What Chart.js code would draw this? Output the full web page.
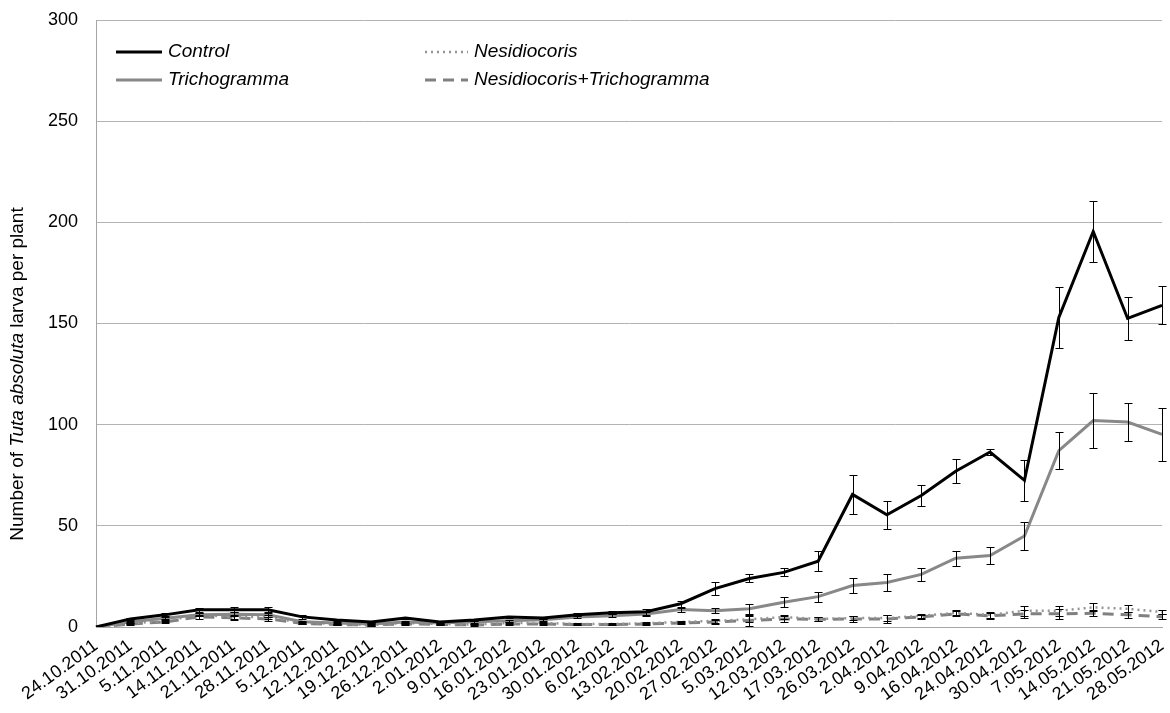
<!DOCTYPE html>
<html>
<head>
<meta charset="utf-8">
<script src="https://cdn.jsdelivr.net/npm/chart.js@4"></script>
<style>
  html, body { margin: 0; padding: 0; background: #fff; }
  #wrap { width: 1170px; height: 713px; position: relative; }
</style>
</head>
<body>
<div id="wrap"><canvas id="myChart" width="1170" height="713"></canvas></div>
<script>
const dates = ["24.10.2011", "31.10.2011", "5.11.2011", "14.11.2011", "21.11.2011", "28.11.2011",
  "5.12.2011", "12.12.2011", "19.12.2011", "26.12.2011", "2.01.2012", "9.01.2012", "16.01.2012",
  "23.01.2012", "30.01.2012", "6.02.2012", "13.02.2012", "20.02.2012", "27.02.2012", "5.03.2012",
  "12.03.2012", "17.03.2012", "26.03.2012", "2.04.2012", "9.04.2012", "16.04.2012", "24.04.2012",
  "30.04.2012", "7.05.2012", "14.05.2012", "21.05.2012", "28.05.2012"];

const yTicks = [0, 50, 100, 150, 200, 250, 300];

// series means
const control = [0, 4, 6, 8.5, 8.5, 8.5, 5, 3.5, 2.5, 4.5, 2.5, 3.5, 5, 4.5, 6, 7, 7.5, 11.5,
  19, 24, 27, 32.5, 65.5, 55.5, 65, 77, 86.5, 72.5, 153, 195.5, 152.5, 159];
const tricho = [0, 2.6, 4.3, 6, 6.3, 6, 2.6, 2, 1.5, 2.5, 2, 2.6, 3.1, 3.6, 5, 5.6, 6.4, 8.6,
  8, 9, 12.2, 15, 20.5, 22, 26, 34, 35.3, 45, 87.2, 102, 101.3, 95.2];
const nesid = [0, 1.8, 3, 6, 5, 5, 2, 1.5, 1, 2, 1.5, 1.2, 2, 2, 1.5, 1.5, 1.8, 2.5,
  3, 3.8, 4.9, 4, 4.4, 4.4, 5.5, 7, 6, 8, 8, 9.7, 9, 7.4];
const nesTricho = [0, 1.5, 2.5, 5, 4.5, 4, 1.8, 1.2, 1, 1.5, 1.3, 1, 1.5, 1.5, 1.2, 1.2, 1.5, 2,
  2.5, 3.2, 4, 3.8, 4, 4, 5, 6.5, 5.5, 6.5, 6.5, 6.8, 6, 5.1];

// error bar half-widths
const controlErr = [0, 0.5, 0.8, 1, 1.2, 1.2, 0.8, 0.5, 0.5, 0.5, 0.5, 0.5, 0.5, 0.5, 0.8, 0.8, 1.5, 1.5,
  3.2, 2, 2, 5, 9.5, 7, 5, 6, 1.5, 10, 15, 15, 10.5, 9.3];
const trichoErr = [0, 0.5, 0.5, 0.8, 1, 1, 0.5, 0.5, 0.5, 0.5, 0.5, 0.5, 0.5, 0.5, 0.5, 0.6, 0.8, 1,
  1.2, 2.5, 2.5, 2.5, 3.5, 4, 3.4, 3.8, 4.3, 7, 9, 13.7, 9.3, 13];
const nesidErr = [0, 0.5, 0.5, 0.8, 1, 1, 0.5, 0.3, 0.3, 0.5, 0.3, 0.3, 0.5, 0.5, 0.3, 0.3, 0.5, 0.5,
  0.8, 1.5, 1, 0.8, 1, 1.5, 1, 1.2, 1.5, 2.5, 2.5, 2, 1.8, 1.2];
const nesTrichoErr = [0, 0.5, 0.5, 0.8, 1, 1, 0.5, 0.3, 0.3, 0.5, 0.3, 0.3, 0.5, 0.5, 0.3, 0.3, 0.5, 0.5,
  0.8, 2.5, 1.5, 1, 1.5, 2, 1, 1.2, 1.5, 2, 2.5, 1.5, 1.5, 1.2];

const seriesNames = ["Control", "Trichogramma", "Nesidiocoris", "Nesidiocoris+Trichogramma"];

const FONT = "'Liberation Sans', Arial, sans-serif";
var ctx = document.getElementById("myChart");

// error bars drawn through the scales
const errorBars = {
  id: "errorBars",
  afterDatasetsDraw(chart) {
    const c = chart.ctx, xs = chart.scales.x, ys = chart.scales.y;
    c.save();
    c.strokeStyle = "#000";
    c.lineWidth = 1;
    chart.data.datasets.forEach(ds => {
      ds.data.forEach((v, i) => {
        const e = ds.err[i];
        if (!e) return;
        const x = Math.round(xs.getPixelForValue(i)) + 0.5;
        const y1 = Math.round(ys.getPixelForValue(v + e)) + 0.5;
        const y2 = Math.round(ys.getPixelForValue(v - e)) + 0.5;
        c.beginPath();
        c.moveTo(x, y1); c.lineTo(x, y2);
        c.moveTo(x - 4, y1); c.lineTo(x + 4, y1);
        c.moveTo(x - 4, y2); c.lineTo(x + 4, y2);
        c.stroke();
      });
    });
    c.restore();
  }
};

// legend in two columns + y title with italic part
const extras = {
  id: "extras",
  afterDraw(chart) {
    const c = chart.ctx;
    const pos = [[116, 52], [116, 80], [425, 52], [425, 80]];
    c.save();
    chart.data.datasets.forEach((ds, i) => {
      const [lx, ly] = pos[i];
      const len = i < 2 ? 46 : 43;
      c.beginPath();
      c.strokeStyle = ds.borderColor;
      c.lineWidth = ds.borderWidth;
      c.setLineDash(ds.borderDash || []);
      c.moveTo(lx, ly); c.lineTo(lx + len, ly);
      c.stroke();
      c.setLineDash([]);
      c.fillStyle = "#000";
      c.font = "italic 19px " + FONT;
      c.textBaseline = "middle";
      c.fillText(seriesNames[i], lx + len + 6, ly);
    });

    const parts = [["Number of ", ""], ["Tuta absoluta", "italic "], [" larva per plant", ""]];
    let total = 0;
    parts.forEach(p => { c.font = p[1] + "19px " + FONT; total += c.measureText(p[0]).width; });
    c.translate(18, 374);
    c.rotate(-Math.PI / 2);
    c.textBaseline = "middle";
    c.fillStyle = "#000";
    let x = -total / 2;
    parts.forEach(p => {
      c.font = p[1] + "19px " + FONT;
      c.fillText(p[0], x, 0);
      x += c.measureText(p[0]).width;
    });
    c.restore();
  }
};

new Chart(ctx, {
  type: "line",
  data: {
    labels: dates,
    datasets: [
      { label: seriesNames[0], data: control, err: controlErr, borderColor: "#000000", borderWidth: 3 },
      { label: seriesNames[1], data: tricho, err: trichoErr, borderColor: "#888888", borderWidth: 3 },
      { label: seriesNames[2], data: nesid, err: nesidErr, borderColor: "#959595", borderWidth: 2.5, borderDash: [2, 4] },
      { label: seriesNames[3], data: nesTricho, err: nesTrichoErr, borderColor: "#808080", borderWidth: 3, borderDash: [11, 7] },
    ].map(d => Object.assign(d, { pointRadius: 0, pointHoverRadius: 0, tension: 0, fill: false })),
  },
  options: {
    responsive: false,
    animation: false,
    devicePixelRatio: 1,
    layout: { padding: { left: 0, right: 8, top: 20, bottom: 0 } },
    plugins: { legend: { display: false }, tooltip: { enabled: false } },
    scales: {
      x: {
        offset: false,
        grid: { display: false, drawTicks: false },
        border: { color: "#a6a6a6", width: 1 },
        ticks: {
          autoSkip: false, maxRotation: 36, minRotation: 36, padding: 8,
          color: "#000", font: { family: FONT, size: 18 },
        },
        afterFit(scale) {
          scale.height = 713 - 627;
          scale.paddingLeft = 0;
          scale.paddingRight = 0;
        },
      },
      y: {
        min: 0, max: 300,
        afterBuildTicks(scale) { scale.ticks = yTicks.map(v => ({ value: v })); },
        grid: { color: "#b3b3b3", lineWidth: 1, drawTicks: false },
        border: { color: "#a6a6a6", width: 1 },
        ticks: { padding: 18, color: "#000", font: { family: FONT, size: 18 } },
        afterFit(scale) {
          scale.width = 96;
          scale.paddingTop = 0;
          scale.paddingBottom = 0;
        },
      },
    },
  },
  plugins: [errorBars, extras],
});
</script>
</body>
</html>
